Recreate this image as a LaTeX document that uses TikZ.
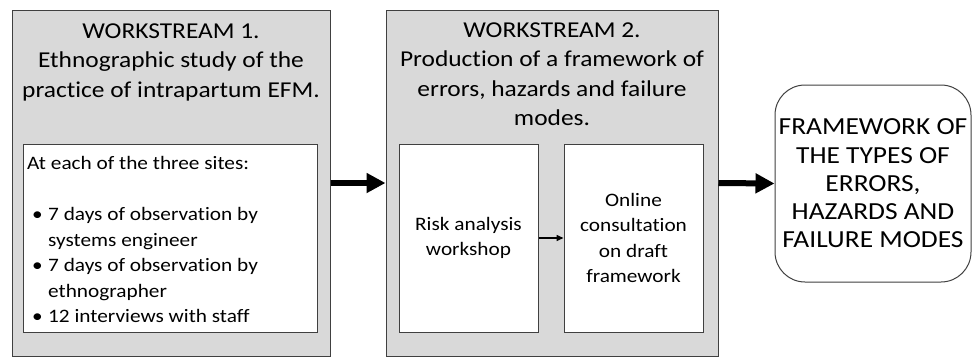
\documentclass[tikz,border=0pt]{standalone}
\usepackage{fontspec}
\setmainfont{Carlito}[FakeStretch=1.12, Ligatures=CommonOff]
\usetikzlibrary{arrows.meta}
\newlength{\du}
\setlength{\du}{1pt}
\definecolor{boxgrey}{rgb}{0.850000, 0.850000, 0.850000}
\definecolor{edgegrey}{rgb}{0.250000, 0.250000, 0.250000}
\tikzset{
  wsbox/.style={draw=edgegrey, fill=boxgrey, line width=1\du, inner sep=0pt},
  stepbox/.style={draw=edgegrey, fill=white, line width=1\du, inner sep=0pt,
    align=center, font=\fontsize{19}{25.3}\selectfont},
  titletext/.style={anchor=north, inner sep=0pt, align=center,
    font=\fontsize{22.7}{29.3}\selectfont},
  bigarrow/.style={line width=6\du, -{Triangle[length=19pt,width=19pt]}},
  smallarrow/.style={line width=1.5\du, -{Triangle[length=7pt,width=6pt]}},
}

\begin{document}
\begin{tikzpicture}
\pgftransformxscale{1.000000}
\pgftransformyscale{-1.000000}
\useasboundingbox (0\du,0\du) rectangle (972\du,357\du);
\clip (0\du,0\du) rectangle (972\du,357\du);
% workstream 1
\node[wsbox, minimum width=318\du, minimum height=346\du] (ws1) at (171\du,183\du) {};
\node[titletext] (ws1title) at (171\du,23.5\du) {WORKSTREAM 1.\\Ethnographic study of the\\practice of intrapartum EFM.};
\node[stepbox, minimum width=293.5\du, minimum height=188\du] (ws1body) at (170.25\du,238\du) {};
\node[anchor=north west, inner sep=0pt, font=\fontsize{19}{25.5}\selectfont] (ws1list) at (27\du,151.5\du) {%
\begin{tabular}{@{}l@{}l@{}}
\multicolumn{2}{@{}l@{}}{At each of the three sites:}\\
 & \\
\makebox[21\du][l]{\hspace{5\du}\textbullet} & 7 days of observation by\\
 & systems engineer\\
\makebox[21\du][l]{\hspace{5\du}\textbullet} & 7 days of observation by\\
 & ethnographer\\
\makebox[21\du][l]{\hspace{5\du}\textbullet} & 12 interviews with staff
\end{tabular}};
% workstream 2
\node[wsbox, minimum width=332\du, minimum height=346\du] (ws2) at (552\du,183\du) {};
\node[titletext] (ws2title) at (552\du,22.5\du) {WORKSTREAM 2.\\Production of a framework of\\errors, hazards and failure\\modes.};
\node[stepbox, minimum width=139\du, minimum height=188\du] (risk) at (468.5\du,238\du) {Risk analysis\\workshop};
\node[stepbox, minimum width=139\du, minimum height=188\du] (online) at (633.5\du,238\du) {Online\\consultation\\on draft\\framework};
% result
\node[draw=edgegrey, fill=white, line width=1\du, rounded corners=30\du, inner sep=0pt,
  minimum width=196\du, minimum height=197\du, align=center,
  font=\fontsize{24.5}{28.3}\selectfont] (frame) at (873\du,183.5\du)
  {FRAMEWORK OF\\THE TYPES OF\\ERRORS,\\HAZARDS AND\\FAILURE MODES};
% connectors
\draw[bigarrow] (ws1.east) -- (ws2.west);
\draw[bigarrow] (ws2.east) -- (frame.west);
\draw[smallarrow] (risk.east) -- (online.west);
\end{tikzpicture}
\end{document}
